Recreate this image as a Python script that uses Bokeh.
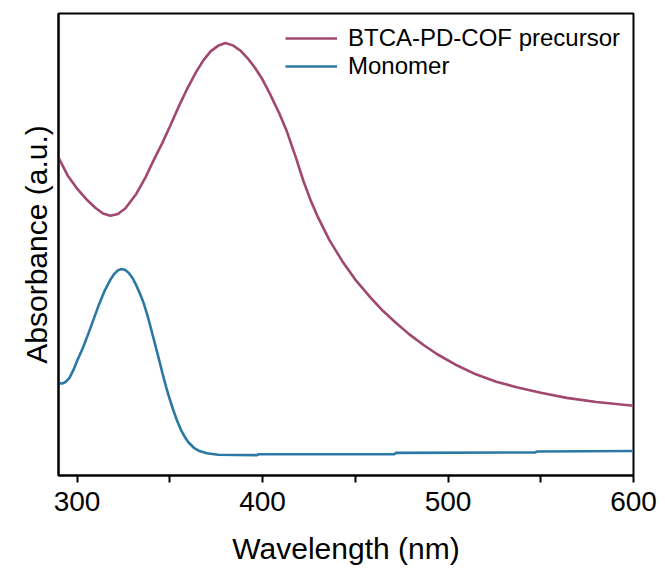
from bokeh.plotting import figure
from bokeh.models import Range1d, FixedTicker, Legend, LegendItem
from bokeh.embed import file_html
from bokeh.resources import INLINE

# BTCA-PD-COF precursor (wavelength nm, absorbance a.u.)
wl_cof = [290, 295, 300, 305, 310, 314, 318, 322, 326, 332, 337, 341, 346, 350, 355,
          359, 364, 368, 372, 376, 380, 384, 388, 392, 396, 400, 404, 409, 413, 418,
          422, 426, 430, 436, 443, 450, 458, 465, 472, 479, 487, 494, 505, 515, 526,
          537, 550, 564, 580, 600]
abs_cof = [0.688, 0.649, 0.621, 0.598, 0.579, 0.567, 0.562, 0.566, 0.578, 0.610, 0.646,
           0.680, 0.720, 0.755, 0.800, 0.834, 0.872, 0.898, 0.918, 0.930, 0.936, 0.931,
           0.920, 0.903, 0.882, 0.857, 0.826, 0.784, 0.746, 0.688, 0.638, 0.595, 0.558,
           0.510, 0.464, 0.424, 0.386, 0.356, 0.330, 0.306, 0.282, 0.263, 0.238, 0.219,
           0.203, 0.191, 0.179, 0.168, 0.159, 0.151]

# Monomer
wl_mono = [290, 292, 294, 296, 298, 300, 303, 306, 309, 312, 315, 318, 320, 322, 324,
           326, 328, 330, 332, 334, 336, 338, 340, 342, 344, 346, 348, 350, 352, 354,
           356, 358, 360, 363, 366, 370, 376, 397, 398, 471, 472, 547, 548, 600]
abs_mono = [0.200, 0.199, 0.203, 0.212, 0.228, 0.248, 0.275, 0.306, 0.339, 0.372, 0.401,
            0.424, 0.436, 0.444, 0.447, 0.445, 0.438, 0.427, 0.411, 0.393, 0.372, 0.346,
            0.316, 0.285, 0.254, 0.222, 0.192, 0.165, 0.140, 0.118, 0.099, 0.084, 0.072,
            0.060, 0.053, 0.048, 0.045, 0.044, 0.046, 0.046, 0.049, 0.050, 0.052, 0.053]

x_ticks = [300, 400, 500, 600]
x_minor_ticks = [350, 450, 550]
series_names = ["BTCA-PD-COF precursor", "Monomer"]
colors = ["#A0486F", "#2C78A5"]

FONT = "Liberation Sans"

p = figure(width=665, height=572, output_backend="svg", toolbar_location=None,
           x_range=Range1d(290, 600), y_range=Range1d(0, 1.0),
           min_border_left=58, min_border_right=32, min_border_top=13, min_border_bottom=97)
p.background_fill_color = "white"
p.border_fill_color = "white"
p.grid.visible = False
p.outline_line_color = "black"
p.outline_line_width = 2

r1 = p.line(wl_cof, abs_cof, line_color=colors[0], line_width=2.6)
r2 = p.line(wl_mono, abs_mono, line_color=colors[1], line_width=2.6)

xa = p.xaxis[0]
xa.ticker = FixedTicker(ticks=x_ticks, minor_ticks=x_minor_ticks)
xa.axis_label = "Wavelength (nm)"
xa.axis_line_width = 2
xa.major_tick_line_width = 2
xa.minor_tick_line_width = 2
xa.major_tick_in = 0
xa.major_tick_out = 7
xa.minor_tick_in = 0
xa.minor_tick_out = 7
xa.major_label_text_font = FONT
xa.major_label_text_font_size = "28px"
xa.major_label_text_color = "black"
xa.major_label_standoff = 9
xa.axis_label_text_font = FONT
xa.axis_label_text_font_size = "30px"
xa.axis_label_text_font_style = "normal"
xa.axis_label_text_color = "black"
xa.axis_label_standoff = 18

ya = p.yaxis[0]
ya.ticker = FixedTicker(ticks=[])
ya.axis_label = "Absorbance (a.u.)"
ya.axis_line_width = 2
ya.major_tick_line_color = None
ya.minor_tick_line_color = None
ya.major_label_text_font_size = "0px"
ya.axis_label_text_font = FONT
ya.axis_label_text_font_size = "30px"
ya.axis_label_text_font_style = "normal"
ya.axis_label_text_color = "black"
ya.axis_label_standoff = 6

legend = Legend(items=[LegendItem(label=series_names[0], renderers=[r1]),
                       LegendItem(label=series_names[1], renderers=[r2])],
                location=(227, 395))
legend.border_line_color = None
legend.background_fill_alpha = 0
legend.padding = 0
legend.margin = 0
legend.spacing = 0
legend.glyph_width = 52
legend.glyph_height = 28
legend.label_height = 28
legend.label_standoff = 11
legend.label_text_font = FONT
legend.label_text_font_size = "24px"
legend.label_text_color = "black"
p.add_layout(legend, "center")

open("out.html", "w").write(file_html(p, INLINE))
